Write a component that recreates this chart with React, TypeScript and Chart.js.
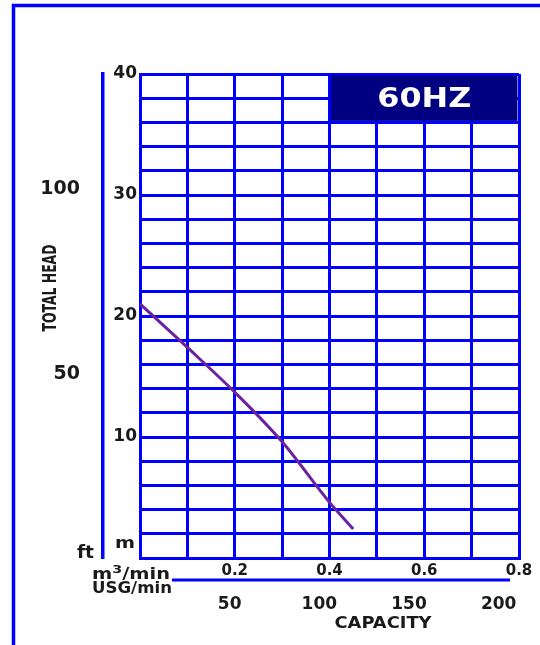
import React, { useEffect, useRef } from "react";
import { Chart, registerables } from "chart.js";

Chart.register(...registerables);

// ---- data ----
const capacityM3: number[] = [0, 0.1, 0.2, 0.3, 0.4, 0.45];
const headM: number[] = [21, 17.4, 13.7, 9.6, 4.6, 2.4];

const capacityMax = 0.8; // m3/min
const headMaxM = 40; // m
const M_TO_FT = 3.28084;
const M3_TO_USG = 264.172;

const ftTicks: number[] = [50, 100];
const usgTicks: number[] = [50, 100, 150, 200];
const headTickLabels: number[] = [10, 20, 30, 40];
const capTickLabels: string[] = ["0.2", "0.4", "0.6", "0.8"];

const freqLabel = "60HZ";
const freqBoxX: number[] = [0.4, 0.8];
const freqBoxY: number[] = [36, 40];

const BLUE = "#0000ff";
const NAVY = "#000080";
const CURVE = "#6a22a0";
const INK = "#1a1a1a";
const FONT = "'DejaVu Sans', sans-serif";

function fitText(
  ctx: CanvasRenderingContext2D,
  text: string,
  x: number,
  y: number,
  width: number,
  font: string,
  color: string,
  align: "left" | "center" = "left"
) {
  ctx.save();
  ctx.font = font;
  ctx.fillStyle = color;
  ctx.textBaseline = "alphabetic";
  const w = ctx.measureText(text).width;
  const sx = width / w;
  const left = align === "center" ? x - width / 2 : x;
  ctx.translate(left, y);
  ctx.scale(sx, 1);
  ctx.textAlign = "left";
  ctx.fillText(text, 0, 0);
  ctx.restore();
}

const decorPlugin = {
  id: "decor",
  afterDraw(chart: any) {
    const ctx: CanvasRenderingContext2D = chart.ctx;
    const area = chart.chartArea;
    const xs = chart.scales.x;
    const ys = chart.scales.y;

    // outer frame (left + top)
    ctx.save();
    ctx.strokeStyle = BLUE;
    ctx.lineWidth = 3.5;
    ctx.beginPath();
    ctx.moveTo(13.5, chart.height);
    ctx.lineTo(13.5, 5.5);
    ctx.lineTo(chart.width, 5.5);
    ctx.stroke();
    ctx.restore();

    // 60HZ box
    const bx0 = xs.getPixelForValue(freqBoxX[0]);
    const bx1 = xs.getPixelForValue(freqBoxX[1]);
    const by0 = ys.getPixelForValue(freqBoxY[1]);
    const by1 = ys.getPixelForValue(freqBoxY[0]);
    ctx.save();
    ctx.fillStyle = NAVY;
    ctx.fillRect(bx0 + 1.5, by0 + 1.5, bx1 - bx0 - 3, by1 - by0 - 3);
    ctx.restore();
    fitText(ctx, freqLabel, (bx0 + bx1) / 2, (by0 + by1) / 2 + 9, 94, `bold 26px ${FONT}`, "#ffffff", "center");

    // TOTAL HEAD (vertical)
    ctx.save();
    ctx.translate(56, 288);
    ctx.rotate(-Math.PI / 2);
    fitText(ctx, "TOTAL HEAD", 0, 0, 87, `bold 20px ${FONT}`, INK, "center");
    ctx.restore();

    // unit labels
    fitText(ctx, "ft", 77, area.bottom, 17, `bold 17px ${FONT}`, INK);
    fitText(ctx, "m", 115, area.bottom - 10, 20, `bold 16px ${FONT}`, INK);

    // m3/min composite
    ctx.save();
    const base = `bold 15px ${FONT}`;
    const sup = `bold 11px ${FONT}`;
    ctx.font = base;
    const wm = ctx.measureText("m").width;
    const wrest = ctx.measureText("/min").width;
    ctx.font = sup;
    const w3 = ctx.measureText("3").width;
    const total = wm + w3 + wrest;
    const sx = 78 / total;
    ctx.translate(92, area.bottom + 21);
    ctx.scale(sx, 1);
    ctx.fillStyle = INK;
    ctx.textBaseline = "alphabetic";
    ctx.font = base;
    ctx.fillText("m", 0, 0);
    ctx.font = sup;
    ctx.fillText("3", wm, -6);
    ctx.font = base;
    ctx.fillText("/min", wm + w3, 0);
    ctx.restore();

    fitText(ctx, "USG/min", 92, area.bottom + 35, 80, `bold 15px ${FONT}`, INK);

    // USG axis line
    ctx.save();
    ctx.strokeStyle = BLUE;
    ctx.lineWidth = 3;
    ctx.beginPath();
    ctx.moveTo(172, area.bottom + 22);
    ctx.lineTo(area.right - 9, area.bottom + 22);
    ctx.stroke();
    ctx.restore();

    // CAPACITY
    fitText(ctx, "CAPACITY", 383, area.bottom + 70, 97, `bold 16px ${FONT}`, INK, "center");
  },
};

export default function App() {
  const ref = useRef<HTMLCanvasElement | null>(null);

  useEffect(() => {
    const canvas = ref.current;
    if (!canvas) return;
    const chart = new Chart(canvas, {
      type: "line",
      data: {
        datasets: [
          {
            data: capacityM3.map((x, i) => ({ x, y: headM[i] })),
            borderColor: CURVE,
            borderWidth: 3,
            pointRadius: 0,
            cubicInterpolationMode: "monotone",
            fill: false,
          },
        ],
      },
      options: {
        animation: false,
        responsive: false,
        maintainAspectRatio: false,
        layout: { padding: { left: 0, top: 74, right: 21, bottom: 0 } },
        plugins: { legend: { display: false }, tooltip: { enabled: false } },
        scales: {
          x: {
            type: "linear",
            position: "bottom",
            weight: 0,
            min: 0,
            max: capacityMax,
            afterFit: (s: any) => {
              s.height = 22;
            },
            ticks: {
              stepSize: 0.1,
              autoSkip: false,
              maxRotation: 0,
              padding: 4,
              color: INK,
              font: { family: FONT, size: 15, weight: "bold" },
              callback: (v: any) => {
                const s = Number(v).toFixed(1);
                return capTickLabels.includes(s) ? s : "";
              },
            },
            grid: { color: BLUE, lineWidth: 3, drawTicks: false },
            border: { color: BLUE, width: 3 },
          },
          usg: {
            type: "linear",
            position: "bottom",
            weight: 1,
            min: 0,
            max: capacityMax * M3_TO_USG,
            afterFit: (s: any) => {
              s.height = 65;
            },
            afterBuildTicks: (s: any) => {
              s.ticks = usgTicks.map((v) => ({ value: v }));
            },
            ticks: {
              autoSkip: false,
              maxRotation: 0,
              padding: 14,
              color: INK,
              font: { family: FONT, size: 17, weight: "bold" },
            },
            grid: { display: false, drawTicks: false },
            border: { display: false },
          },
          y: {
            type: "linear",
            position: "left",
            weight: 0,
            min: 0,
            max: headMaxM,
            afterFit: (s: any) => {
              s.width = 37;
            },
            ticks: {
              stepSize: 2,
              autoSkip: false,
              padding: 3,
              color: INK,
              font: { family: FONT, size: 17, weight: "bold" },
              callback: (v: any) => (headTickLabels.includes(Number(v)) ? String(v) : ""),
            },
            grid: { color: BLUE, lineWidth: 3, drawTicks: false },
            border: { color: BLUE, width: 3 },
          },
          ft: {
            type: "linear",
            position: "left",
            weight: 1,
            min: 0,
            max: headMaxM * M_TO_FT,
            afterFit: (s: any) => {
              s.width = 103;
            },
            afterBuildTicks: (s: any) => {
              s.ticks = ftTicks.map((v) => ({ value: v }));
            },
            ticks: {
              autoSkip: false,
              padding: 23,
              color: INK,
              font: { family: FONT, size: 19, weight: "bold" },
            },
            grid: { display: false, drawTicks: false },
            border: { color: BLUE, width: 3.5 },
          },
        },
      },
      plugins: [decorPlugin],
    } as any);
    return () => chart.destroy();
  }, []);

  return (
    <div style={{ position: "fixed", left: 0, top: 0, width: 540, height: 645, background: "#fff" }}>
      <canvas ref={ref} width={540} height={645} style={{ width: 540, height: 645, display: "block" }} />
    </div>
  );
}
